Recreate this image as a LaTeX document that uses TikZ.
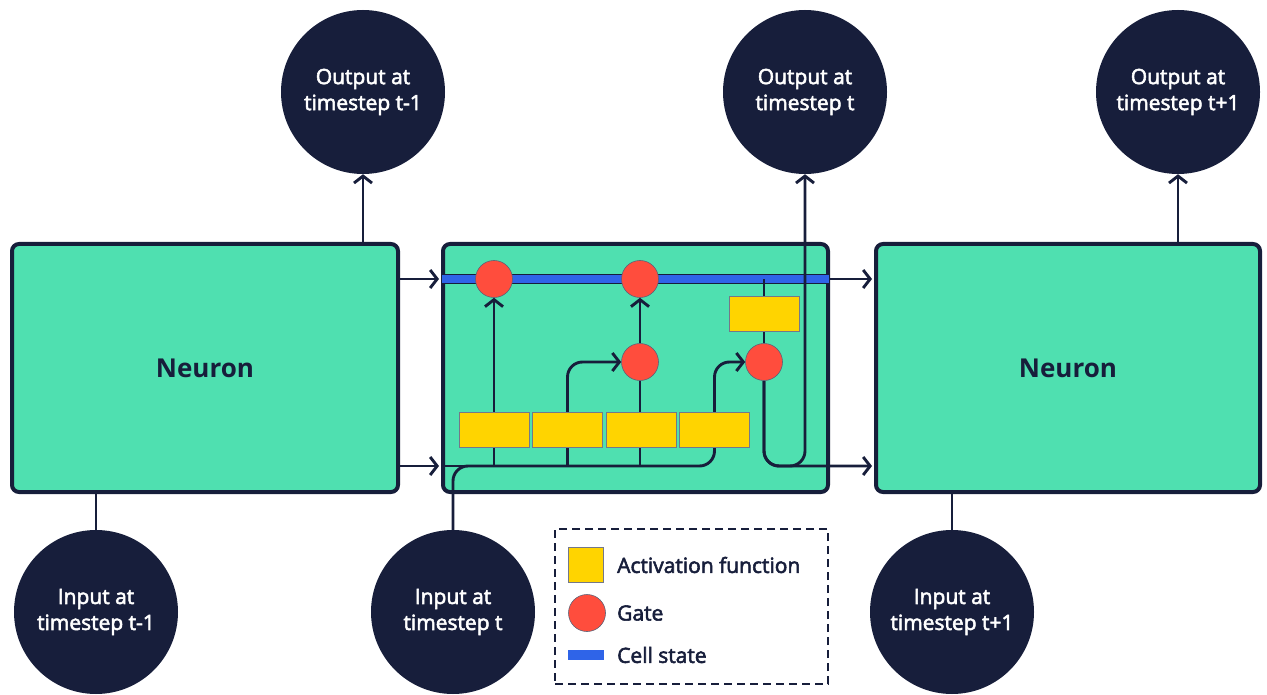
\documentclass[tikz,border=0pt]{standalone}
\usepackage{fontspec}
\setmainfont{Open Sans}
\newfontfamily\medfont{Open Sans}[FakeBold=2.6]
\usetikzlibrary{arrows.meta}
\definecolor{navy}{HTML}{171E3B}
\definecolor{mint}{HTML}{4FE0B0}
\definecolor{gatered}{HTML}{FF4D3D}
\definecolor{actyellow}{HTML}{FFD400}
\definecolor{cellblue}{HTML}{2F64E8}
\pgfdeclarelayer{bg}\pgfdeclarelayer{lines}\pgfsetlayers{bg,lines,main}
\begin{document}
\begin{tikzpicture}[x=1pt,y=-1pt,
 neuron/.style={draw=navy, fill=mint, line width=4pt, rounded corners=7pt, minimum height=248pt, inner sep=0, font=\bfseries\fontsize{26}{30}\selectfont, text=navy},
 term/.style={circle, fill=navy, minimum size=164pt, inner sep=0, text=white, align=center, font=\medfont\fontsize{21}{26}\selectfont},
 gate/.style={circle, fill=gatered, draw=navy!70, line width=0.6pt, minimum size=37pt, inner sep=0},
 act/.style={fill=actyellow, draw=navy!60, line width=0.6pt, minimum width=70pt, minimum height=35pt, inner sep=0},
 line/.style={draw=navy, line width=2.9pt},
 arr/.style={line, -{Straight Barb[length=7pt,width=18pt]}},
 legtext/.style={anchor=west, text=navy, inner sep=0, font=\medfont\fontsize{21}{24}\selectfont},
]
\useasboundingbox (0,0) rectangle (1267,695);
\begin{pgfonlayer}{bg}
\node[neuron, minimum width=386pt] (nL) at (205,368) {Neuron};
\node[neuron, minimum width=385pt] (cell) at (635.5,368) {};
\node[neuron, minimum width=384pt] (nR) at (1068,368) {Neuron};
\end{pgfonlayer}
% terminals
\node[term] (outL) at (363,92) {Output at\\timestep t-1};
\node[term] (outM) at (805,92) {Output at\\timestep t};
\node[term] (outR) at (1178,92) {Output at\\timestep t+1};
\node[term] (inL) at (96,612) {Input at\\timestep t-1};
\node[term] (inM) at (453,612) {Input at\\timestep t};
\node[term] (inR) at (952,612) {Input at\\timestep t+1};
% gates
\node[gate] (g1) at (494,279) {};
\node[gate] (g2) at (640,279) {};
\node[gate] (g3) at (640,362) {};
\node[gate] (g4) at (764,362) {};
% activations
\node[act] (a1) at (494,429.5) {};
\node[act] (a2) at (567.5,429.5) {};
\node[act] (a3) at (641,429.5) {};
\node[act] (a4) at (714.5,429.5) {};
\node[act] (a5) at (764,314) {};
% coordinates
\coordinate (hL) at (398,466);
\coordinate (cL) at (398,279);
\begin{pgfonlayer}{lines}
% cell state
\draw[navy, line width=10.5pt] (cell.west |- 0,279) -- (cell.east |- 0,279);
\draw[cellblue, line width=8pt] ([xshift=1pt]cell.west |- 0,279) -- ([xshift=-1pt]cell.east |- 0,279);
% from left neuron
\draw[arr] (nL.east |- cL) -- ([xshift=-2pt]cell.west |- cL);
\draw[arr] (nL.east |- hL) -- ([xshift=-2pt]cell.west |- hL);
\draw[arr] (cell.east |- cL) -- ([xshift=-2pt]nR.west |- cL);
% outputs / inputs of outer neurons
\draw[arr] (nL.north -| outL) -- (outL.south);
\draw[arr] (nR.north -| outR) -- (outR.south);
\draw[line] (nL.south -| inL) -- (inL.north);
\draw[line] (nR.south -| inR) -- (inR.north);
% inside cell
\draw[line] (cell.west |- hL) -- (600,466);
\draw[arr, rounded corners=15pt] (inM.north) |- (a4.south |- hL) |- (g4.west);
\draw[arr] (a1.south |- hL) -- (g1.south);
\draw[arr, rounded corners=15pt] (a2.south |- hL) |- (g3.west);
\draw[line] (g3.south |- hL) -- (g3.south);
\draw[arr] (g3.north) -- (g2.south);
\draw[line] (g4.north) -- (g4.north |- 0,279);
\draw[arr, rounded corners=15pt] (g4.south) |- ([xshift=-2pt]nR.west |- hL);
\draw[arr, rounded corners=15pt] (g4.south) |- (outM.south |- hL) -- (outM.south);
\end{pgfonlayer}
% legend
\node[draw=navy, line width=2.4pt, dash pattern=on 8pt off 5pt, minimum width=273pt, minimum height=155pt, inner sep=0] (legend) at (691.5,606.5) {};
\node[act, minimum width=35pt, minimum height=35pt] (lact) at (585.5,564.5) {};
\node[gate] (lgate) at (587,613) {};
\node[fill=cellblue, minimum width=36pt, minimum height=10pt, inner sep=0] (lcell) at (586,655) {};
\node[legtext] (tact) at (617,565) {Activation function};
\node[legtext] (tgate) at (617,613) {Gate};
\node[legtext] (tcell) at (617,655) {Cell state};
\end{tikzpicture}
\end{document}
